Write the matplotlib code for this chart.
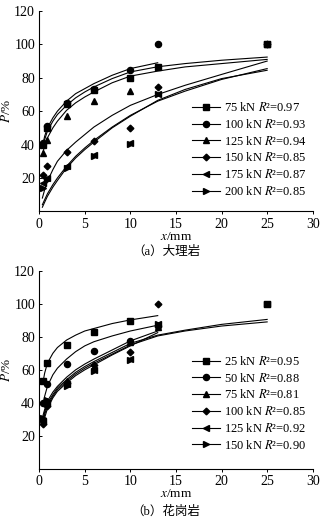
import matplotlib
matplotlib.use('Agg')
import matplotlib.pyplot as plt

plt.rcParams['font.family'] = ['Liberation Serif', 'Noto Sans CJK SC']
plt.rcParams['mathtext.fontset'] = 'stix'
plt.rcParams['font.size'] = 8.5

# ---- (a) marble: measured points ----
a_labels = ['75 kN $R$²=0.97', '100 kN $R$²=0.93', '125 kN $R$²=0.94',
            '150 kN $R$²=0.85', '175 kN $R$²=0.87', '200 kN $R$²=0.85']
a_px = [[0.4, 0.9, 3, 6, 10, 13, 25],
        [0.4, 0.9, 3, 6, 10, 13],
        [0.4, 0.9, 3, 6, 10, 25],
        [0.4, 0.9, 3, 6, 10, 13, 25],
        [0.4, 0.9, 3, 6, 10, 13, 25],
        [0.4, 0.9, 3, 6, 10, 13, 25]]
a_py = [[40, 50, 64.4, 72.6, 79.6, 86.4, 100],
        [41, 51, 65, 73.4, 84.4, 100],
        [35, 43, 57.4, 66, 71.8, 100],
        [22, 27, 35.6, 42.2, 50, 74.4, 100],
        [17, 20, 27, 34, 41, 70, 100],
        [14, 19, 26, 33, 40.5, 70, 100]]
# ---- (a) fitted curves ----
a_cx = [[0.4, 0.6, 0.9, 1.5, 2, 3, 4, 5, 6, 8, 10, 13, 16, 20, 25],
        [0.4, 0.6, 0.9, 1.5, 2, 3, 4, 5, 6, 8, 10, 13],
        [0.4, 0.6, 0.9, 1.5, 2, 3, 4, 5, 6, 8, 10, 13, 16, 20, 25],
        [0.35, 0.6, 0.9, 1.5, 2, 3, 4, 5, 6, 8, 10, 13, 16, 20, 25],
        [0.35, 0.6, 0.9, 1.5, 2, 3, 4, 5, 6, 8, 10, 13, 16, 20, 25],
        [0.35, 0.6, 0.9, 1.5, 2, 3, 4, 5, 6, 8, 10, 13, 16, 20, 25]]
a_cy = [[38, 43, 48, 54, 58, 63.5, 68, 71.5, 74.5, 79.5, 83.5, 86.6, 88.5, 90.5, 92.4],
        [40, 45, 50, 56, 60, 66, 70.5, 73.5, 76.5, 81.5, 85.5, 89],
        [35, 39.5, 44, 50, 54, 60.5, 65, 68.5, 71.5, 77, 81, 84, 86.5, 88.5, 91],
        [8, 13, 18, 25, 30, 36.5, 41.5, 46, 50.5, 57.5, 63.5, 70, 75.5, 82, 90],
        [4, 7, 10.5, 16, 20, 27, 33, 38, 42.5, 50.5, 57.5, 66, 72, 79, 85.5],
        [2.5, 5.5, 9, 14.5, 18.5, 26, 32, 37, 41.5, 50, 57, 66.5, 73, 79.5, 84.5]]

# ---- (b) granite: measured points ----
b_labels = ['25 kN $R$²=0.95', '50 kN $R$²=0.88', '75 kN $R$²=0.81',
            '100 kN $R$²=0.85', '125 kN $R$²=0.92', '150 kN $R$²=0.90']
b_px = [[0.4, 0.9, 3, 6, 10, 25],
        [0.4, 0.9, 3, 6, 10, 13],
        [0.4, 0.9, 3, 6, 10, 13],
        [0.4, 0.9, 3, 6, 10, 13],
        [0.4, 0.9, 3, 6, 10, 13, 25],
        [0.4, 0.9, 3, 6, 10, 13, 25]]
b_py = [[53, 64.3, 75, 83, 89.7, 100],
        [40, 51.6, 63.7, 71.3, 77.6, 86.5],
        [30, 41, 53.3, 62, 77, 86],
        [27, 38, 52, 63, 71, 100],
        [29, 40, 51.5, 60, 66.5, 87.5, 100],
        [31, 42, 50, 59, 66, 88, 100]]
# ---- (b) fitted curves ----
b_cx = [[0.4, 0.6, 0.9, 1.5, 2, 3, 4, 5, 6, 8, 10, 13],
        [0.4, 0.6, 0.9, 1.5, 2, 3, 4, 5, 6, 8, 10, 13],
        [0.4, 0.6, 0.9, 1.5, 2, 3, 4, 5, 6, 8, 10, 13],
        [0.4, 0.6, 0.9, 1.5, 2, 3, 4, 5, 6, 8, 10, 13, 16, 20, 25],
        [0.4, 0.6, 0.9, 1.5, 2, 3, 4, 5, 6, 8, 10, 13, 16, 20, 25],
        [0.4, 0.6, 0.9, 1.5, 2, 3, 4, 5, 6, 8, 10, 13]]
b_cy = [[52, 58, 64, 70, 73.5, 78, 81, 83.5, 85, 88, 90.2, 92.8],
        [39, 44, 50, 57, 61, 66.5, 71, 74.5, 77, 80.5, 83.5, 87],
        [32, 36, 41, 46.5, 50, 55.5, 60, 63.5, 66.5, 72, 77.5, 83.5],
        [30, 34.5, 39.5, 45, 49, 54, 58.5, 62, 65, 70.5, 76, 81, 84, 87.5, 90.5],
        [28, 33, 38, 44, 48, 53, 57.5, 61, 64, 69.5, 75, 80.5, 83.5, 86.5, 89],
        [26, 31, 36.5, 43, 47, 52, 56.5, 60, 63, 69, 74.5, 82.5]]

markers = ['s', 'o', '^', 'D', '<', '>']
msizes = [4.2, 4.4, 4.4, 3.4, 4.4, 4.4]

fig = plt.figure(figsize=(3.32, 5.22), dpi=100)
ax1 = fig.add_axes([0.118, 0.595, 0.824, 0.384])
ax2 = fig.add_axes([0.118, 0.1015, 0.824, 0.38])


def draw(ax, px, py, cx, cy, labels, leg_y):
    for i in range(6):
        ax.plot(cx[i], cy[i], color='black', linewidth=0.8, zorder=2)
        ax.plot(px[i], py[i], linestyle='none', marker=markers[i],
                markersize=msizes[i], color='black', zorder=3)
    handles = []
    for i in range(6):
        h, = ax.plot([], [], color='black', linewidth=0.8, marker=markers[i],
                     markersize=msizes[i], label=labels[i])
        handles.append(h)
    ax.legend(handles=handles, loc='upper left', bbox_to_anchor=(0.56, leg_y),
              frameon=False, handlelength=2.2, handletextpad=0.3,
              labelspacing=0.3, borderpad=0, borderaxespad=0, fontsize=9)
    ax.set_xlim(0, 30)
    ax.set_ylim(0, 120)
    ax.set_xticks([0, 5, 10, 15, 20, 25, 30])
    ax.set_yticks([20, 40, 60, 80, 100, 120])
    ax.spines['top'].set_visible(False)
    ax.spines['right'].set_visible(False)
    ax.tick_params(axis='x', direction='out', length=2.5, width=0.7, pad=2, labelsize=10)
    ax.tick_params(axis='y', direction='in', length=2.5, width=0.7, pad=3, labelsize=10)
    ax.set_xlabel('$x$/mm', labelpad=0, fontsize=9.5)
    ax.set_ylabel('$P$/%', labelpad=1, fontsize=9.5)


draw(ax1, a_px, a_py, a_cx, a_cy, a_labels, 0.55)
draw(ax2, b_px, b_py, b_cx, b_cy, b_labels, 0.575)

fig.text(0.5, 0.517, '（a）大理岩', ha='center', va='center', fontsize=9)
fig.text(0.5, 0.019, '（b）花岗岩', ha='center', va='center', fontsize=9)

fig.savefig('out.png', dpi=100)
